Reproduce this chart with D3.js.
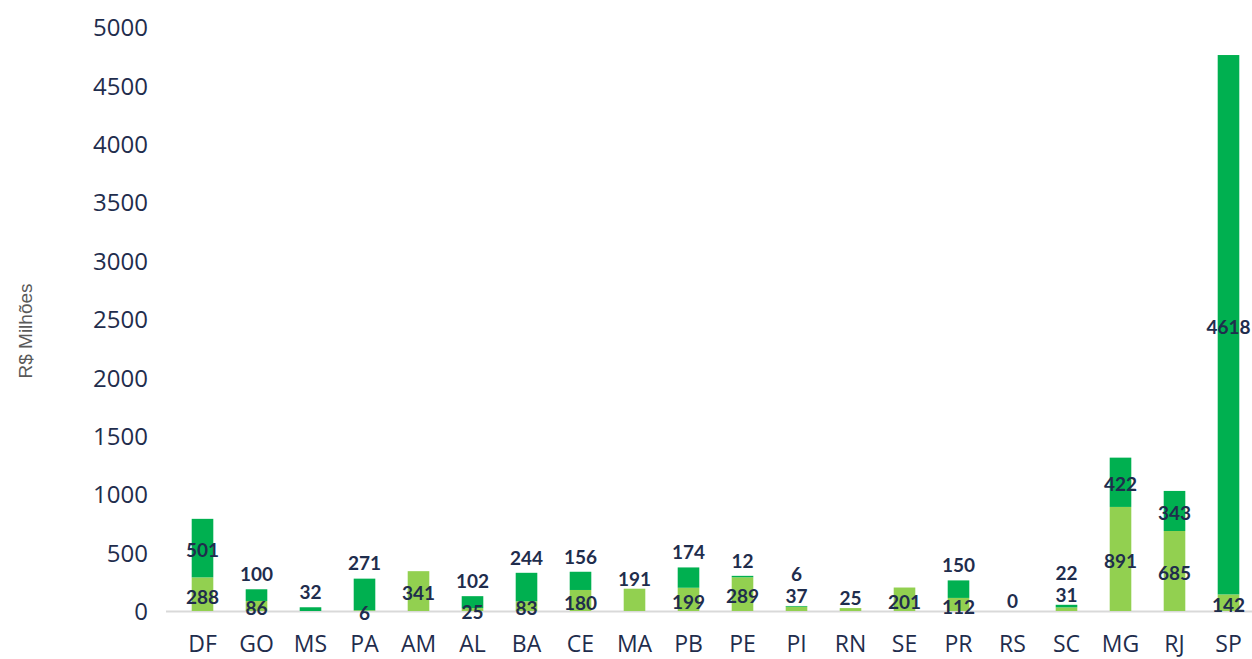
<!DOCTYPE html>
<html><head><meta charset="utf-8">
<script src="https://cdn.jsdelivr.net/npm/d3@7"></script>
<style>body{margin:0;background:#fff}svg{display:block}</style>
</head><body>
<svg id="c" width="1252" height="659"></svg>
<script>
const categories = ["DF","GO","MS","PA","AM","AL","BA","CE","MA","PB","PE","PI","RN","SE","PR","RS","SC","MG","RJ","SP"];
const lightValues = [288,86,null,6,341,25,83,180,191,199,289,37,25,201,112,0,31,891,685,142];
const darkValues  = [501,100,32,271,null,102,244,156,null,174,12,6,null,null,150,null,22,422,343,4618];
const yTicks = [0,500,1000,1500,2000,2500,3000,3500,4000,4500,5000];
const yTitle = "R$ Milhões";

const svg = d3.select("#c");
const x = d3.scaleBand().domain(categories).range([175.5,1255.5]).paddingInner(0.6).paddingOuter(0.3);
const y = d3.scaleLinear().domain([0,5000]).range([611,27]);
const LIGHT="#92D050", DARK="#00B050", TXT="#1F2D4D";

// axis line
svg.append("line").attr("x1",166).attr("x2",1252).attr("y1",y(0)+0.5).attr("y2",y(0)+0.5)
  .attr("stroke","#D9D9D9").attr("stroke-width",2);

// y axis
const ya = svg.append("g").attr("transform","translate(148,0)")
  .call(d3.axisLeft(y).tickValues(yTicks).tickFormat(d3.format("d")).tickSize(0).tickPadding(0));
ya.select(".domain").remove();
ya.selectAll("text").attr("font-family","Open Sans").attr("font-size",24).attr("fill",TXT).attr("dy","0.36em");

// x axis
const xa = svg.append("g").attr("transform",`translate(0,${y(0)})`)
  .call(d3.axisBottom(x).tickSize(0).tickPadding(25));
xa.select(".domain").remove();
xa.selectAll("text").attr("font-family","Open Sans").attr("font-size",23).attr("fill",TXT);

// title
svg.append("text").attr("transform","translate(32,331) rotate(-90)").attr("text-anchor","middle")
  .attr("font-family","Liberation Sans").attr("font-size",19).attr("fill","#595959").text(yTitle);

const rows = categories.map((c,i)=>({c, l: lightValues[i], d: darkValues[i]}));
const bw = x.bandwidth();
// bars
svg.append("g").selectAll("rect").data(rows.filter(r=>r.l)).join("rect")
  .attr("x",r=>x(r.c)).attr("width",bw).attr("y",r=>y(r.l)).attr("height",r=>y(0)-y(r.l)).attr("fill",LIGHT);
svg.append("g").selectAll("rect").data(rows.filter(r=>r.d)).join("rect")
  .attr("x",r=>x(r.c)).attr("width",bw).attr("y",r=>y((r.l||0)+r.d)).attr("height",r=>y(0)-y(r.d)).attr("fill",DARK);

// labels
const lab = svg.append("g").attr("font-family","Lato").attr("font-weight","bold").attr("font-size",19)
  .attr("fill",TXT).attr("text-anchor","middle");
rows.forEach(r=>{
  const cx = x(r.c)+bw/2;
  const l = r.l||0, d = r.d||0;
  const top = y(l+d);
  const lh = y(0)-y(l), dh = y(0)-y(d);
  const lightAbove = r.l!==null && dh < 5 && lh < 23;
  if (r.l!==null){
    const cy = lightAbove ? top - 10 : (y(0)+y(l))/2 + 2.5;
    lab.append("text").attr("x",cx).attr("y",cy).attr("dy","0.36em").text(r.l);
  }
  if (r.d!==null){
    const cy = dh >= 35 ? (y(l)+y(l+d))/2 + 2 : (lightAbove ? top - 32 : top - 15);
    lab.append("text").attr("x",cx).attr("y",cy).attr("dy","0.36em").text(r.d);
  }
});
</script>
</body></html>
